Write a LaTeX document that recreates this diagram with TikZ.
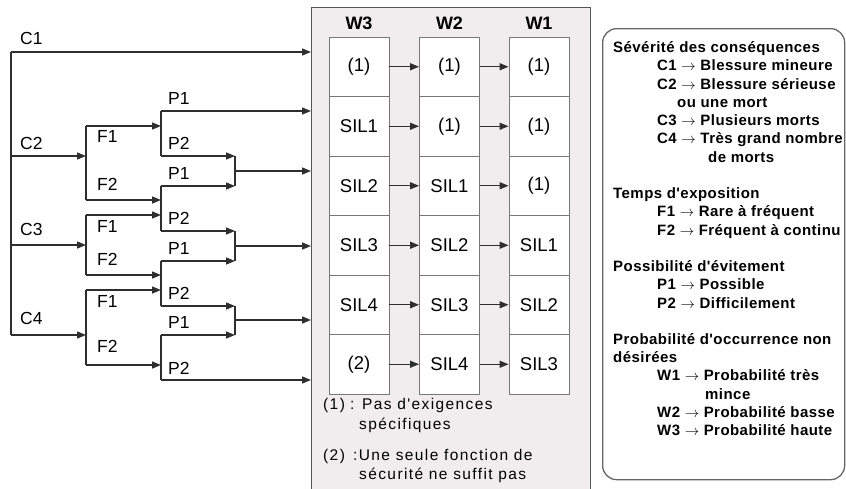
\documentclass[tikz,border=0pt]{standalone}
\usepackage{fontspec}
\setmainfont{Liberation Sans}
\newfontfamily\legfont[LetterSpace=3]{Liberation Sans}
\newfontfamily\notefont[LetterSpace=9]{Liberation Sans}
\usetikzlibrary{arrows.meta}
\definecolor{linegray}{HTML}{2E2E2E}
\definecolor{framefill}{HTML}{F1EDEF}
\definecolor{framegray}{HTML}{555555}
\definecolor{cellgray}{HTML}{777777}
\definecolor{legray}{HTML}{666666}
\begin{document}
\begin{tikzpicture}[x=1pt,y=-1pt,
	wire/.style={draw=linegray,line width=1.4pt},
	arr/.style={wire,-{Triangle[length=9pt,width=7pt]}},
	lbl/.style={anchor=mid west,inner sep=0pt,font=\fontsize{17.5}{20}\selectfont},
	cell/.style={draw=cellgray,line width=0.9pt,fill=white,minimum width=60pt,minimum height=59.5pt,inner sep=0pt,font=\fontsize{18.5}{21}\selectfont},
	head/.style={inner sep=0pt,font=\fontsize{18}{20}\selectfont\bfseries},
	note/.style={anchor=mid west,inner sep=0pt,font=\notefont\fontsize{15.5}{18}\selectfont},
	leg/.style={anchor=mid west,inner sep=0pt,font=\legfont\bfseries\fontsize{15}{17}\selectfont}]
	\useasboundingbox (0,0) rectangle (846,488);
	% risk graph frame
	\node[draw=framegray,line width=1.2pt,fill=framefill,minimum width=279pt,minimum height=490pt,anchor=north west,inner sep=0pt] (frame) at (311,7) {};
	\node[head] (W3) at (359,23) {W3};
	\node[head] (W2) at (449.5,23) {W2};
	\node[head] (W1) at (539,23) {W1};
	\foreach \a/\b/\c [count=\r] in {{(1)}/{(1)}/{(1)},SIL1/{(1)}/{(1)},SIL2/SIL1/{(1)},SIL3/SIL2/SIL1,SIL4/SIL3/SIL2,{(2)}/SIL4/SIL3}{
		\node[cell] (w3-\r) at (359,7.25+59.5*\r) {\a};
		\node[cell] (w2-\r) at (449.5,7.25+59.5*\r) {\b};
		\node[cell] (w1-\r) at (539,7.25+59.5*\r) {\c};
		\draw[arr] (w3-\r) -- (w2-\r);
		\draw[arr] (w2-\r) -- (w1-\r);
	}
	\node[note] (n1) at (323,407) {(1)};
	\node[note] (n1t) at (350,407) {: Pas d'exigences};
	\node[note] (n1u) at (359,427) {spécifiques};
	\node[note] (n2) at (323,458) {(2)};
	\node[note] (n2t) at (353,458) {:Une seule fonction de};
	\node[note] (n2u) at (359,477) {sécurité ne suffit pas};
	% severity
	\coordinate (S1) at (11,52);
	\coordinate (S2) at (11,156);
	\coordinate (S3) at (11,245);
	\coordinate (S4) at (11,335);
	\draw[wire] (S1) -- (S4);
	\draw[arr] (S1) -- (S1 -| frame.west);
	% exposure forks
	\foreach \n/\a/\b in {2/126/200,3/215/275,4/290/365}{
		\coordinate (F\n-1) at (86,\a);
		\coordinate (F\n-2) at (86,\b);
		\draw[wire] (F\n-1) -- (F\n-2);
		\draw[arr] (S\n) -- (S\n -| F\n-1);
	}
	% avoidance forks
	\foreach \p/\a/\b in {A/111/156,B/186/231,C/261/306,D/335/380}{
		\coordinate (P\p-1) at (161,\a);
		\coordinate (P\p-2) at (161,\b);
		\draw[wire] (P\p-1) -- (P\p-2);
	}
	\foreach \f/\p in {2-1/A,2-2/B,3-1/B,3-2/C,4-1/C,4-2/D}
		\draw[arr] (F\f) -- (F\f -| P\p-1);
	% merges
	\foreach \m/\u/\l/\y in {1/A-2/B-1/171,2/B-2/C-1/246,3/C-2/D-1/320}{
		\coordinate (M\m) at (235,\y);
		\draw[wire] (P\u -| M\m) -- (P\l -| M\m);
		\draw[arr] (P\u) -- (P\u -| M\m);
		\draw[arr] (P\l) -- (P\l -| M\m);
		\draw[arr] (M\m) -- (M\m -| frame.west);
	}
	\draw[arr] (PA-1) -- (PA-1 -| frame.west);
	\draw[arr] (PD-2) -- (PD-2 -| frame.west);
	% labels
	\foreach \n/\y in {1/42,2/147,3/233,4/322}
		\node[lbl] (lC\n) at (20,\y) {C\n};
	\foreach \n/\i/\y in {2/1/140,2/2/188,3/1/230,3/2/263,4/1/305,4/2/350}
		\node[lbl] (lF\n-\i) at (97,\y) {F\i};
	\foreach \p/\i/\y in {A/1/102,A/2/147,B/1/177,B/2/222,C/1/252,C/2/297,D/1/326,D/2/372}
		\node[lbl] (lP\p-\i) at (168,\y) {P\i};
	% legend
	\node[draw=legray,line width=1.3pt,rounded corners=14pt,minimum width=242pt,minimum height=451pt,anchor=north west,inner sep=0pt] (legend) at (602,28) {};
	\foreach \x/\k/\t in {613/0/Sévérité des conséquences,
		657/1/C1 $\rightarrow$ Blessure mineure,
		657/2/C2 $\rightarrow$ Blessure sérieuse,
		677/3/ou une mort,
		657/4/C3 $\rightarrow$ Plusieurs morts,
		657/5/C4 $\rightarrow$ Très grand nombre,
		708/6/de morts,
		613/8/Temps d'exposition,
		657/9/F1 $\rightarrow$ Rare à fréquent,
		657/10/F2 $\rightarrow$ Fréquent à continu,
		613/12/Possibilité d'évitement,
		657/13/P1 $\rightarrow$ Possible,
		657/14/P2 $\rightarrow$ Difficilement,
		613/16/Probabilité d'occurrence non,
		613/17/désirées,
		657/18/W1 $\rightarrow$ Probabilité très,
		705/19/mince,
		657/20/W2 $\rightarrow$ Probabilité basse,
		657/21/W3 $\rightarrow$ Probabilité haute}
		\node[leg] (g\k) at (\x,50+18.24*\k) {\t};
\end{tikzpicture}
\end{document}
